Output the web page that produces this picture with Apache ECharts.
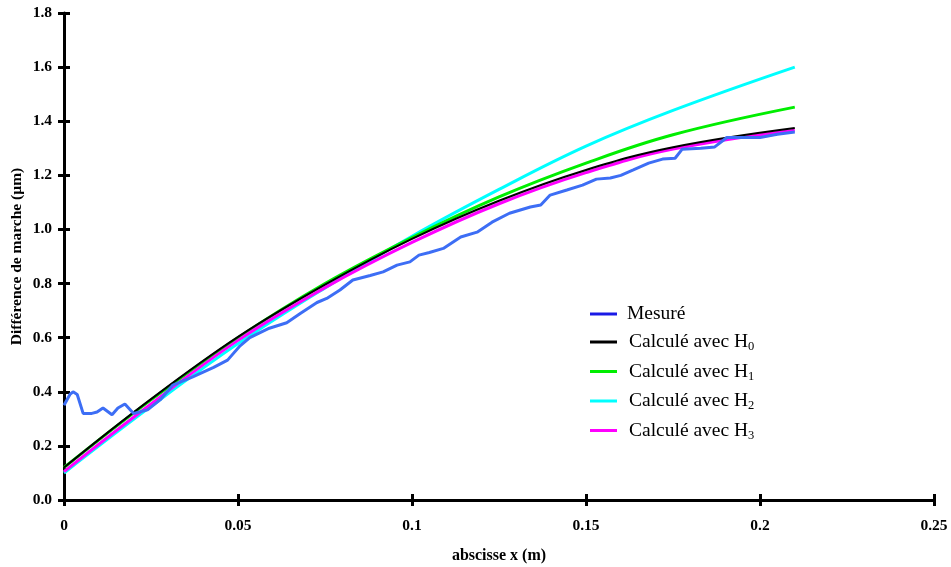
<!DOCTYPE html>
<html><head><meta charset="utf-8">
<script src="https://cdn.jsdelivr.net/npm/echarts@6/dist/echarts.min.js"></script>
<style>html,body{margin:0;padding:0;background:#fff}#c{width:951px;height:567px}</style>
</head><body><div id="c"></div>
<script>
// Measured curve (x in m, y in µm)
const measX = [0,0.0017,0.0026,0.0038,0.0055,0.008,0.0095,0.0112,0.0138,0.0155,0.0175,0.02,0.024,0.0276,0.0313,0.037,0.043,0.047,0.0506,0.0534,0.059,0.064,0.068,0.0727,0.0755,0.0793,0.083,0.088,0.0917,0.0957,0.0994,0.102,0.105,0.109,0.114,0.1187,0.123,0.128,0.134,0.137,0.1397,0.1445,0.149,0.153,0.157,0.16,0.1636,0.168,0.172,0.1756,0.1776,0.183,0.187,0.1905,0.196,0.2,0.205,0.21];
const measY = [0.35,0.39,0.40,0.39,0.32,0.32,0.325,0.34,0.315,0.34,0.355,0.32,0.333,0.37,0.425,0.455,0.49,0.517,0.57,0.60,0.635,0.655,0.69,0.73,0.745,0.776,0.813,0.83,0.843,0.868,0.88,0.905,0.915,0.93,0.972,0.99,1.027,1.06,1.083,1.09,1.127,1.146,1.164,1.186,1.19,1.20,1.22,1.245,1.26,1.263,1.296,1.30,1.305,1.34,1.34,1.34,1.352,1.36];
// Computed curves
const modelX = [0,0.025,0.05,0.075,0.1,0.125,0.15,0.175,0.21];
const h0 = [0.12,0.373,0.603,0.796,0.965,1.106,1.22,1.304,1.375];
const h1 = [0.12,0.37,0.60,0.80,0.97,1.12,1.245,1.35,1.452];
const h2 = [0.10,0.346,0.578,0.784,0.975,1.148,1.308,1.44,1.60];
const h3 = [0.105,0.355,0.59,0.785,0.952,1.095,1.21,1.297,1.367];
const legendNames = ['Mesuré','Calculé avec H0','Calculé avec H1','Calculé avec H2','Calculé avec H3'];

const pairs = (xs, ys) => xs.map((x, i) => [x, ys[i]]);
const font = "'Liberation Serif','Times New Roman',serif";

const chart = echarts.init(document.getElementById('c'));
const tickStyle = {color: '#000', width: 3};
chart.setOption({
  animation: false,
  backgroundColor: '#fff',
  grid: {left: 64, right: 17, top: 13, bottom: 67, containLabel: false, outerBoundsMode: 'none'},
  xAxis: [{
    type: 'value', min: 0, max: 0.25, interval: 0.05, position: 'bottom',
    axisLine: {show: true, onZero: false, lineStyle: {color: '#000', width: 3}},
    splitLine: {show: false},
    axisTick: {show: true, length: 6, lineStyle: tickStyle},
    axisLabel: {margin: 18, color: '#000', fontFamily: font, fontWeight: 'bold', fontSize: 15.5},
    name: 'abscisse x (m)', nameLocation: 'middle', nameGap: 48, nameMoveOverlap: false,
    nameTextStyle: {color: '#000', fontFamily: font, fontWeight: 'bold', fontSize: 16}
  }, {
    type: 'value', min: 0, max: 0.25, interval: 0.05, position: 'bottom', offset: 0,
    axisLine: {show: false, onZero: false}, splitLine: {show: false},
    axisTick: {show: true, inside: true, length: 6, lineStyle: tickStyle},
    axisLabel: {show: false}
  }],
  yAxis: [{
    type: 'value', min: 0, max: 1.8, interval: 0.2, position: 'left',
    axisLine: {show: true, onZero: false, lineStyle: {color: '#000', width: 3}},
    splitLine: {show: false},
    axisTick: {show: true, length: 6, lineStyle: tickStyle},
    axisLabel: {margin: 12, color: '#000', fontFamily: font, fontWeight: 'bold', fontSize: 15.5,
      formatter: v => v.toFixed(1)},
    name: 'Différence de marche (µm)', nameLocation: 'middle', nameGap: 39, nameMoveOverlap: false,
    nameTextStyle: {color: '#000', fontFamily: font, fontWeight: 'bold', fontSize: 15.5}
  }, {
    type: 'value', min: 0, max: 1.8, interval: 0.2, position: 'left', offset: 0,
    axisLine: {show: false, onZero: false}, splitLine: {show: false},
    axisTick: {show: true, inside: true, length: 6, lineStyle: tickStyle},
    axisLabel: {show: false}
  }],
  legend: {
    orient: 'vertical', left: 585, top: 299, itemGap: 8,
    itemWidth: 27, itemHeight: 3, icon: 'rect',
    data: [
      {name: legendNames[0], itemStyle: {color: '#1a1ae6'}},
      {name: legendNames[1]}, {name: legendNames[2]}, {name: legendNames[3]}, {name: legendNames[4]}
    ],
    formatter: n => {
      if (n === legendNames[0]) return '{m|' + n + '}';
      return '{c|' + n.slice(0, -1) + '}{s|' + n.slice(-1) + '}';
    },
    textStyle: {
      color: '#000', fontFamily: font, fontSize: 19.5,
      rich: {
        m: {fontFamily: font, fontSize: 19.5, color: '#000', height: 22, padding: [0, 0, 0, 5]},
        c: {fontFamily: font, fontSize: 19.5, color: '#000', height: 22, padding: [0, 0, 0, 7]},
        s: {fontFamily: font, fontSize: 12.5, color: '#000', padding: [10, 0, 0, 0], height: 22}
      }
    }
  },
  series: [
    {name: legendNames[3], type: 'line', data: pairs(modelX, h2), smooth: 0.4, showSymbol: false,
      lineStyle: {color: '#00ffff', width: 3}, itemStyle: {color: '#00ffff'}, z: 2},
    {name: legendNames[2], type: 'line', data: pairs(modelX, h1), smooth: 0.4, showSymbol: false,
      lineStyle: {color: '#00ee00', width: 3}, itemStyle: {color: '#00ee00'}, z: 3},
    {name: legendNames[4], type: 'line', data: pairs(modelX, h3), smooth: 0.4, showSymbol: false,
      lineStyle: {color: '#ff00ff', width: 3}, itemStyle: {color: '#ff00ff'}, z: 4},
    {name: legendNames[1], type: 'line', data: pairs(modelX, h0), smooth: 0.4, showSymbol: false,
      lineStyle: {color: '#000000', width: 2}, itemStyle: {color: '#000000'}, z: 5},
    {name: legendNames[0], type: 'line', data: pairs(measX, measY), showSymbol: false,
      lineStyle: {color: '#3d6ef5', width: 3}, itemStyle: {color: '#3d6ef5'}, z: 6}
  ]
});
</script></body></html>
